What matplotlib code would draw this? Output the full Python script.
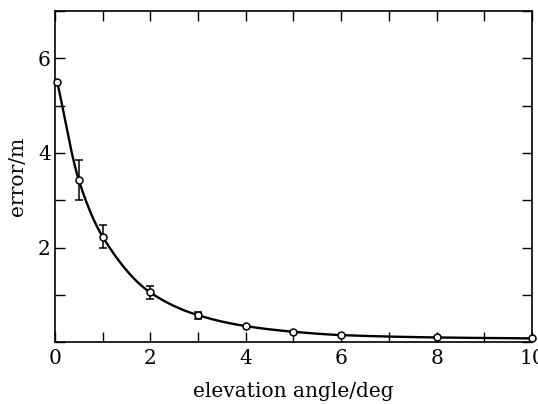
import numpy as np
import matplotlib
matplotlib.use("Agg")
from matplotlib import pyplot as plt
from matplotlib.ticker import MultipleLocator

angle = [0.05, 0.5, 1.0, 2.0, 3.0, 4.0, 5.0, 6.0, 8.0, 10.0]
error = [5.5, 3.43, 2.23, 1.05, 0.57, 0.34, 0.22, 0.15, 0.10, 0.08]
err_bar = [0.0, 0.42, 0.25, 0.13, 0.07, 0.0, 0.0, 0.0, 0.0, 0.0]


def smooth_curve(x, y, n=400):
    # monotone cubic (Fritsch-Carlson) just to draw a smooth line through the points
    x = np.asarray(x, float)
    y = np.asarray(y, float)
    h = np.diff(x)
    d = np.diff(y) / h
    m = np.zeros_like(y)
    m[0], m[-1] = d[0], d[-1]
    for i in range(1, len(x) - 1):
        if d[i - 1] * d[i] > 0:
            w1 = 2 * h[i] + h[i - 1]
            w2 = h[i] + 2 * h[i - 1]
            m[i] = (w1 + w2) / (w1 / d[i - 1] + w2 / d[i])
    xs = np.linspace(x[0], x[-1], n)
    k = np.clip(np.searchsorted(x, xs) - 1, 0, len(x) - 2)
    t = (xs - x[k]) / h[k]
    h00 = 2 * t**3 - 3 * t**2 + 1
    h10 = t**3 - 2 * t**2 + t
    h01 = -2 * t**3 + 3 * t**2
    h11 = t**3 - t**2
    ys = h00 * y[k] + h10 * h[k] * m[k] + h01 * y[k + 1] + h11 * h[k] * m[k + 1]
    return xs, ys


plt.rcParams['font.family'] = ['DejaVu Serif']
plt.rcParams['font.size'] = 14.5

fig = plt.figure(figsize=(5.38, 4.04), dpi=100)
ax = fig.add_axes([0.102, 0.153, 0.887, 0.820])

xs, ys = smooth_curve(angle, error)
ax.plot(xs, ys, color='black', lw=1.7, zorder=2)

eb = np.array(err_bar)
mask = eb > 0
ax.errorbar(np.array(angle)[mask], np.array(error)[mask], yerr=eb[mask],
            fmt='none', ecolor='black', elinewidth=1.1, capsize=3, capthick=1.1, zorder=3)
ax.plot(angle, error, 'o', ms=5, mfc='white', mec='black', mew=1.1, zorder=4,
        clip_on=False)

ax.set_xlim(0, 10)
ax.set_ylim(0, 7)
ax.set_xticks([0, 2, 4, 6, 8, 10])
ax.set_yticks([2, 4, 6])
ax.xaxis.set_minor_locator(MultipleLocator(1))
ax.yaxis.set_minor_locator(MultipleLocator(1))
ax.tick_params(which='both', direction='in', top=True, right=True, width=1.0)
ax.tick_params(which='major', length=7, labelsize=14.5)
ax.tick_params(axis='y', which='major', pad=3)
ax.tick_params(axis='x', which='major', pad=5)
ax.tick_params(which='minor', length=7)
for s in ax.spines.values():
    s.set_linewidth(1.2)

ax.set_xlabel('elevation angle/deg', fontsize=14.5, labelpad=10)
ax.set_ylabel('error/m', fontsize=14.5, labelpad=8)

fig.savefig('out.png', dpi=100)
